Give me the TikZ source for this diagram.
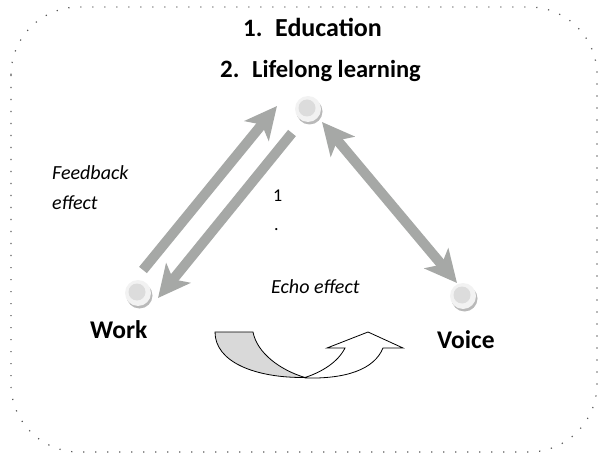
\documentclass[tikz,border=0pt]{standalone}
\usepackage{fontspec}
\setmainfont{Carlito}
\usetikzlibrary{arrows.meta,shadows}
\definecolor{arrgray}{RGB}{166,168,166}
\definecolor{ballout}{RGB}{242,242,242}
\definecolor{ballin}{RGB}{220,220,220}
\definecolor{ballshd}{RGB}{185,185,185}
\definecolor{echogray}{RGB}{217,217,217}
\begin{document}
\begin{tikzpicture}[x=1pt,y=-1pt,
  border/.style={draw=black!65, line width=1.2pt, dash pattern=on 1.2pt off 10.8pt, rounded corners=68pt},
  ball/.style={circle, minimum size=26pt, inner sep=0pt, fill=ballout,
    general shadow={fill=ballshd, shadow xshift=1.5pt, shadow yshift=-2.5pt},
    path picture={\fill[ballin] ([shift={(-1pt,1pt)}]path picture bounding box.center) circle (8.5pt);}},
  bigarr/.style={draw=arrgray, line width=10pt, -{Stealth[length=32pt,width=31pt,inset=8pt]}},
  dblarr/.style={draw=arrgray, line width=10pt, {Stealth[length=32pt,width=31pt,inset=8pt]}-{Stealth[length=32pt,width=31pt,inset=8pt]}},
  titletxt/.style={anchor=base west, inner sep=0pt, font=\fontsize{25}{30}\selectfont\bfseries},
  labtxt/.style={anchor=base west, inner sep=0pt, font=\fontsize{25.5}{30}\selectfont\bfseries},
  ittxt/.style={anchor=base west, inner sep=0pt, font=\fontsize{20}{24}\selectfont\itshape},
  numtxt/.style={anchor=base west, inner sep=0pt, font=\fontsize{18}{22}\selectfont},
  echo/.style={draw=black, line width=0.8pt, line join=miter}
]
\useasboundingbox (0,0) rectangle (599,454);
\draw[border] (11,7) rectangle (597,452);

% titles
\node[titletxt] (n1) at (243,37) {1.};
\node[titletxt, font=\fontsize{26}{30}\selectfont\bfseries] (edut) at (275,37) {Education};
\node[titletxt] (n2) at (220,78) {2.};
\node[titletxt, font=\fontsize{24.5}{30}\selectfont\bfseries] (llt) at (252,78) {Lifelong learning};

% balls
\node[ball] (edu) at (308,109) {};
\node[ball] (work) at (138,293) {};
\node[ball] (voice) at (463,296) {};

% labels
\node[labtxt] (workt) at (90,338) {Work};
\node[labtxt] (voicet) at (437,348) {Voice};
\node[ittxt] (fb1) at (52,180) {Feedback};
\node[ittxt] (fb2) at (52,210) {effect};
\node[ittxt] (echot) at (271,293) {Echo effect};
\node[numtxt] (one) at (273,202) {1};
\node[numtxt] (dot) at (274,230) {.};

% arrows
\draw[bigarr] ([shift={(5pt,23pt)}]work.center) -- ([shift={(-31pt,3pt)}]edu.center);
\draw[bigarr] ([shift={(-16pt,-24pt)}]edu.center) -- ([shift={(20pt,-5pt)}]work.center);
\draw[dblarr] ([shift={(14pt,-13pt)}]edu.center) -- ([shift={(-6pt,13pt)}]voice.center);

% echo arrow
\draw[echo, fill=echogray] (215,332) -- (253,332)
  .. controls (257,353) and (280,370) .. (305,377.5)
  .. controls (255,378) and (215,362) .. (215,332) -- cycle;
\draw[echo, fill=white] (305,377.5)
  .. controls (322,372) and (338,362) .. (345,348)
  -- (327,348) -- (368,332) -- (403,348) -- (383,348)
  .. controls (374,370) and (345,379) .. (305,378) -- cycle;
\end{tikzpicture}
\end{document}
